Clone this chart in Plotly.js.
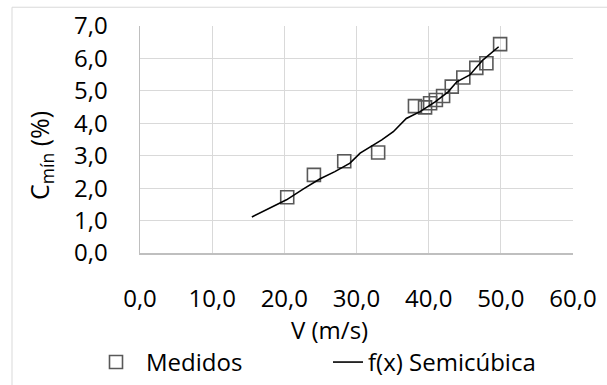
<!DOCTYPE html>
<html>
<head>
<meta charset="utf-8">
<script src="https://cdn.plot.ly/plotly-3.0.1.min.js"></script>
<style>html,body{margin:0;padding:0;background:#fff;}#chart{width:607px;height:385px;}</style>
</head>
<body>
<div id="chart"></div>
<script>
// Measured points
var medidosV = [20.4, 24.1, 28.3, 33.0, 38.1, 39.5, 40.2, 41.0, 42.0, 43.2, 44.8, 46.6, 48.0, 49.9];
var medidosC = [1.72, 2.41, 2.83, 3.10, 4.53, 4.49, 4.62, 4.72, 4.84, 5.13, 5.41, 5.71, 5.85, 6.44];
// Fitted semicubic curve
var fitV = [15.5, 20.3, 22.6, 24.9, 27.0, 29.1, 30.5, 33.5, 35.1, 36.9, 38.8, 40.9, 42.7, 43.9, 45.7, 47.5, 49.7];
var fitC = [1.11, 1.64, 1.97, 2.28, 2.51, 2.77, 3.08, 3.49, 3.74, 4.15, 4.36, 4.66, 4.97, 5.28, 5.49, 5.95, 6.36];
var seriesNames = ["Medidos", "f(x) Semicúbica"];
var xTitle = "V (m/s)";
var yTitle = "C<sub>mín</sub> (%)";

var FONT = "Open Sans, Noto Sans, sans-serif";
var traces = [
  {x: medidosV, y: medidosC, name: seriesNames[0], type: "scatter", mode: "markers", legend: "legend",
   marker: {symbol: "square-open", size: 13, color: "#595959", line: {width: 1.6, color: "#595959"}}},
  {x: fitV, y: fitC, name: seriesNames[1], type: "scatter", mode: "lines", legend: "legend2",
   line: {color: "#000000", width: 1.6}}
];
var legY = (253.3 - 363) / 227.5;
var layout = {
  width: 607, height: 385,
  margin: {l: 140, r: 34, t: 26, b: 132, autoexpand: false},
  paper_bgcolor: "#ffffff", plot_bgcolor: "#ffffff",
  separators: ",.",
  font: {family: FONT, size: 24, color: "#000000"},
  showlegend: true,
  legend: {orientation: "h", x: (86 - 140) / 433, xanchor: "left", y: legY, yanchor: "middle",
           font: {family: FONT, size: 24, color: "#000"}, itemwidth: 50, bgcolor: "rgba(0,0,0,0)"},
  legend2: {orientation: "h", x: (328 - 140) / 433, xanchor: "left", y: legY, yanchor: "middle",
           font: {family: FONT, size: 24, color: "#000"}, itemwidth: 30, bgcolor: "rgba(0,0,0,0)"},
  xaxis: {range: [0, 60], dtick: 10, tick0: 0, tickformat: ".1f", showgrid: true, gridcolor: "#d9d9d9", gridwidth: 1,
          zeroline: false, showline: true, linecolor: "#bfbfbf", linewidth: 1.5, ticks: "", ticklabelstandoff: 24,
          tickfont: {family: FONT, size: 24, color: "#000"}, fixedrange: true},
  yaxis: {range: [0, 7], dtick: 1, tick0: 0, tickformat: ".1f", showgrid: true, gridcolor: "#d9d9d9", gridwidth: 1,
          zeroline: false, showline: true, linecolor: "#bfbfbf", linewidth: 1.5, ticks: "", ticklabelstandoff: 26,
          tickfont: {family: FONT, size: 24, color: "#000"}, fixedrange: true},
  annotations: [
    {text: xTitle, xref: "paper", yref: "paper", x: (329 - 140) / 433, y: (253.3 - 330) / 227.5,
     xanchor: "center", yanchor: "middle", showarrow: false, font: {family: FONT, size: 24, color: "#000"}},
    {text: yTitle, xref: "paper", yref: "paper", x: (41 - 140) / 433, y: (253.3 - 156) / 227.5,
     xanchor: "center", yanchor: "middle", textangle: -90, showarrow: false, font: {family: FONT, size: 25, color: "#000"}}
  ],
  shapes: [
    {type: "rect", xref: "paper", yref: "paper", x0: (12 - 140) / 433, x1: 1.2, y0: -0.7, y1: (253.3 - 7) / 227.5,
     line: {color: "#d9d9d9", width: 1}, fillcolor: "rgba(0,0,0,0)", layer: "below"}
  ]
};
Plotly.newPlot("chart", traces, layout, {staticPlot: true, displayModeBar: false});
</script>
</body>
</html>
